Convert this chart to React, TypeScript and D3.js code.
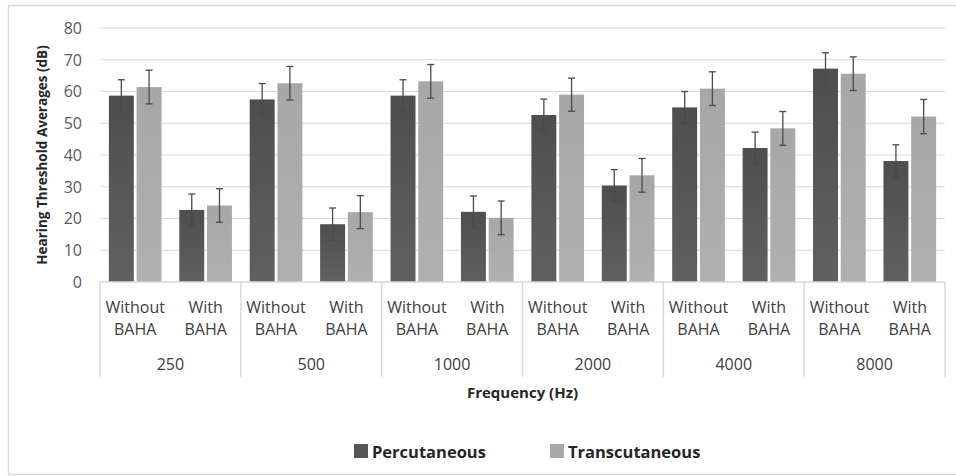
import React from "react";
import * as d3 from "d3";

const groups = ["250", "500", "1000", "2000", "4000", "8000"];
const conditions = ["Without BAHA", "With BAHA"];
const seriesNames = ["Percutaneous", "Transcutaneous"];

// values per group: [without, with]
const percutaneous = [58.7, 22.7, 57.5, 18.2, 58.7, 22.1, 52.6, 30.4, 55.0, 42.2, 67.2, 38.1];
const transcutaneous = [61.4, 24.1, 62.6, 22.0, 63.2, 20.2, 59.0, 33.6, 60.9, 48.4, 65.6, 52.1];
const percError = [5.0, 5.0, 5.0, 5.1, 5.0, 5.0, 5.0, 5.0, 5.0, 5.0, 5.0, 5.1];
const transError = [5.3, 5.3, 5.3, 5.2, 5.3, 5.3, 5.2, 5.3, 5.3, 5.3, 5.3, 5.4];
const yTicks = [0, 10, 20, 30, 40, 50, 60, 70, 80];

const W = 956;
const H = 476;
const margin = { top: 28, right: 11, bottom: 194, left: 100 };
const font = "'Open Sans', sans-serif";

const App = () => {
  const plotW = W - margin.left - margin.right;
  const plotH = H - margin.top - margin.bottom;

  const subKeys = groups.flatMap((g) => conditions.map((c) => `${g}|${c}`));
  const x = d3.scaleBand().domain(subKeys).range([0, plotW]).paddingInner(0).paddingOuter(0);
  const xs = d3.scaleBand().domain(seriesNames).range([0, x.bandwidth()]).paddingInner(0.1).paddingOuter(0.32);
  const y = d3.scaleLinear().domain([0, 80]).range([plotH, 0]);

  const series = [
    { name: seriesNames[0], values: percutaneous, err: percError, fill: "url(#gPerc)", swatch: "#555555" },
    { name: seriesNames[1], values: transcutaneous, err: transError, fill: "url(#gTrans)", swatch: "#a9a9a9" },
  ];

  const groupW = x.bandwidth() * conditions.length;

  return (
    <svg width={W} height={H} style={{ display: "block", position: "absolute", left: 0, top: 0 }}>
      <defs>
        <linearGradient id="gPerc" x1="0" x2="0" y1="0" y2="1">
          <stop offset="0" stopColor="#4e4e4e" />
          <stop offset="1" stopColor="#606060" />
        </linearGradient>
        <linearGradient id="gTrans" x1="0" x2="0" y1="0" y2="1">
          <stop offset="0" stopColor="#a7a7a7" />
          <stop offset="1" stopColor="#b0b0b0" />
        </linearGradient>
      </defs>
      <rect x={0} y={0} width={W} height={H} fill="#fff" />
      <rect x={8.5} y={5.5} width={W + 10} height={469} fill="none" stroke="#d9d9d9" strokeWidth={1.5} />

      <g transform={`translate(${margin.left},${margin.top})`}>
        {yTicks.map((t) => (
          <g key={t}>
            {t > 0 && <line x1={0} x2={plotW} y1={y(t)} y2={y(t)} stroke="#d9d9d9" strokeWidth={1.2} />}
            <text x={-18} y={y(t)} dy="0.36em" textAnchor="end" fontFamily={font} fontSize={16} fill="#595959">
              {t}
            </text>
          </g>
        ))}

        {series.map((s) => (
          <g key={s.name}>
            {subKeys.map((k, i) => {
              const bx = (x(k) as number) + (xs(s.name) as number);
              const cx = bx + xs.bandwidth() / 2;
              const v = s.values[i];
              const e = s.err[i];
              return (
                <g key={k}>
                  <rect x={bx} y={y(v)} width={xs.bandwidth()} height={plotH - y(v)} fill={s.fill} />
                  <line x1={cx} x2={cx} y1={y(v + e)} y2={y(v - e)} stroke="#4a4a4a" strokeWidth={1.3} />
                  <line x1={cx - 3.5} x2={cx + 3.5} y1={y(v + e)} y2={y(v + e)} stroke="#4a4a4a" strokeWidth={1.3} />
                  <line x1={cx - 3.5} x2={cx + 3.5} y1={y(v - e)} y2={y(v - e)} stroke="#4a4a4a" strokeWidth={1.3} />
                </g>
              );
            })}
          </g>
        ))}

        <line x1={0} x2={plotW} y1={plotH} y2={plotH} stroke="#d9d9d9" strokeWidth={1.5} />
        {d3.range(groups.length + 1).map((i) => (
          <line key={i} x1={i * groupW} x2={i * groupW} y1={plotH} y2={plotH + 95} stroke="#d9d9d9" strokeWidth={1.5} />
        ))}

        {subKeys.map((k) => {
          const cond = k.split("|")[1];
          const [w1, w2] = cond.split(" ");
          const cx = (x(k) as number) + x.bandwidth() / 2;
          return (
            <text key={k} textAnchor="middle" fontFamily={font} fontSize={16} fill="#404040">
              <tspan x={cx} y={plotH + 31}>{w1}</tspan>
              <tspan x={cx} y={plotH + 53}>{w2}</tspan>
            </text>
          );
        })}
        {groups.map((g, i) => (
          <text key={g} x={i * groupW + groupW / 2} y={plotH + 88} textAnchor="middle" fontFamily={font} fontSize={16} fill="#404040">
            {g}
          </text>
        ))}

        <text x={plotW / 2} y={plotH + 116} textAnchor="middle" fontFamily={font} fontSize={15} fontWeight="bold" fill="#262626">
          Frequency (Hz)
        </text>
        <text
          transform={`translate(-53,${plotH / 2}) rotate(-90)`}
          textAnchor="middle"
          fontFamily={font}
          fontSize={13.5}
          fontWeight="bold"
          fill="#262626"
        >
          Hearing Threshold  Averages (dB)
        </text>
      </g>

      <g transform="translate(354,444)">
        {series.map((s, i) => (
          <g key={s.name} transform={`translate(${i * 196},0)`}>
            <rect x={0} y={0} width={14} height={14} fill={s.swatch} />
            <text x={18} y={13.5} fontFamily={font} fontSize={16.5} fontWeight="bold" fill="#262626">
              {s.name}
            </text>
          </g>
        ))}
      </g>
    </svg>
  );
};

export default App;
